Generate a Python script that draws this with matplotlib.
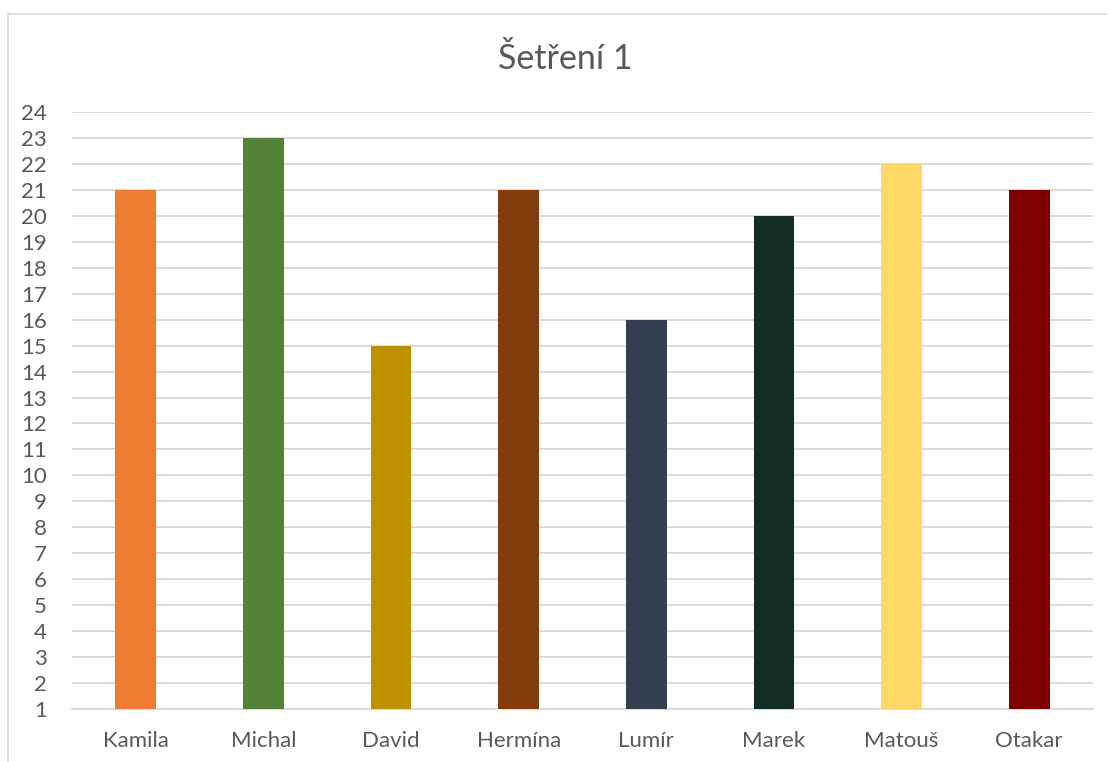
import matplotlib
matplotlib.use("Agg")
import matplotlib.pyplot as plt
from matplotlib.lines import Line2D

title = "Šetření 1"
categories = ["Kamila", "Michal", "David", "Hermína", "Lumír", "Marek", "Matouš", "Otakar"]
values = [21, 23, 15, 21, 16, 20, 22, 21]
colors = ["#ED7D31", "#548235", "#BF9000", "#843C0C", "#333F50", "#132D25", "#FFD966", "#800000"]
yticks = list(range(1, 25))

plt.rcParams['font.family'] = ['Lato', 'DejaVu Sans']

W, H = 1107, 762
fig = plt.figure(figsize=(W / 100, H / 100), dpi=100)
fig.patch.set_facecolor("white")

# outer chart border (left and top visible)
fig.add_artist(Line2D([8 / W, 8 / W], [0, 1 - 14 / H], transform=fig.transFigure, color="#D9D9D9", lw=1.2))
fig.add_artist(Line2D([8 / W, 1], [1 - 14 / H, 1 - 14 / H], transform=fig.transFigure, color="#D9D9D9", lw=1.2))

left, right = 72 / W, 1093 / W
bottom, top = (H - 709) / H, (H - 112) / H
ax = fig.add_axes([left, bottom, right - left, top - bottom])

x = list(range(len(categories)))
ax.bar(x, [v - 1 for v in values], bottom=1, width=0.32, color=colors, zorder=3)

ax.set_xlim(-0.5, len(categories) - 0.5)
ax.set_ylim(1, 24)
ax.set_yticks(yticks)
ax.set_yticklabels([str(t) for t in yticks])
ax.set_xticks(x)
ax.set_xticklabels(categories)

ax.grid(axis="y", color="#D9D9D9", lw=1.3, zorder=0)
ax.set_axisbelow(True)
for s in ["top", "right", "left"]:
    ax.spines[s].set_visible(False)
ax.spines["bottom"].set_color("#D9D9D9")
ax.spines["bottom"].set_linewidth(1.3)

ax.tick_params(axis="both", length=0, labelsize=16, colors="#595959")
ax.tick_params(axis="y", pad=18)
ax.tick_params(axis="x", pad=16)

fig.text(565 / W, 1 - 59 / H, title, ha="center", va="center", fontsize=24.5, color="#595959")

fig.savefig("out.png", dpi=100)
